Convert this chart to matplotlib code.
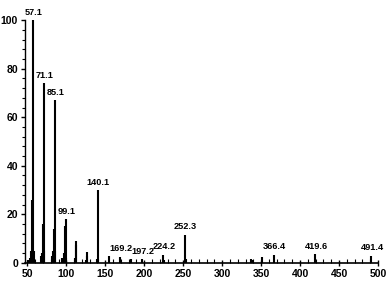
import matplotlib
matplotlib.use("Agg")
import matplotlib.pyplot as plt
from matplotlib.ticker import MultipleLocator

# m/z and relative abundance
mz = [51, 53, 55, 56, 57.1, 58, 67, 69, 70, 71.1, 72, 81, 83, 84, 85.1, 86,
      95, 97, 98, 99.1, 100, 111, 112, 113, 125, 126, 127, 139, 140.1, 141,
      155, 169.2, 183, 197.2, 224.2, 225, 252.3, 253, 337, 338, 351, 366.4,
      419.6, 491.4]
abundance = [1, 2, 5, 26, 100, 5, 3, 4, 16, 74, 5, 3, 5, 14, 67, 5,
             2, 4, 15, 18, 2, 2, 9, 7.5, 1, 3, 4.5, 1.5, 30, 1.5,
             3, 2.5, 1.5, 1.5, 3.3, 1, 11.6, 1.5, 1.5, 1, 2.5, 3.3,
             3.5, 3]

labels = ["57.1", "71.1", "85.1", "99.1", "140.1", "169.2", "197.2",
          "224.2", "252.3", "366.4", "419.6", "491.4"]

fig = plt.figure(figsize=(3.92, 2.83), dpi=100)
ax = fig.add_axes([0.0638, 0.071, 0.9005, 0.858])

ax.vlines(mz, 0, abundance, color="black", linewidth=1.5)

for lab in labels:
    x = float(lab)
    y = abundance[mz.index(x)]
    ax.annotate(lab, (x, y), xytext=(0.5, 2.5), textcoords="offset points",
                ha="center", va="bottom", family="Liberation Sans",
                fontsize=6.6, fontweight="bold")

ax.set_xlim(47, 500)
ax.set_ylim(0, 100)
ax.xaxis.set_major_locator(MultipleLocator(50))
ax.xaxis.set_minor_locator(MultipleLocator(10))
ax.yaxis.set_major_locator(MultipleLocator(20))
ax.yaxis.set_minor_locator(MultipleLocator(4))
ax.tick_params(axis="x", which="major", direction="inout", length=5, width=1, pad=2)
ax.tick_params(axis="x", which="minor", direction="in", length=3, width=0.8)
ax.tick_params(axis="y", which="major", direction="out", length=3, width=1, pad=2)
ax.tick_params(axis="y", which="minor", direction="out", length=2, width=0.8)
for t in ax.get_xticklabels() + ax.get_yticklabels():
    t.set_fontfamily("Liberation Sans")
    t.set_fontsize(7.5)
    t.set_fontweight("bold")

ax.spines["top"].set_visible(False)
ax.spines["right"].set_visible(False)
ax.spines["left"].set_linewidth(1)
ax.spines["bottom"].set_linewidth(1.2)
ax.patch.set_visible(False)

fig.savefig("out.png", dpi=100)
